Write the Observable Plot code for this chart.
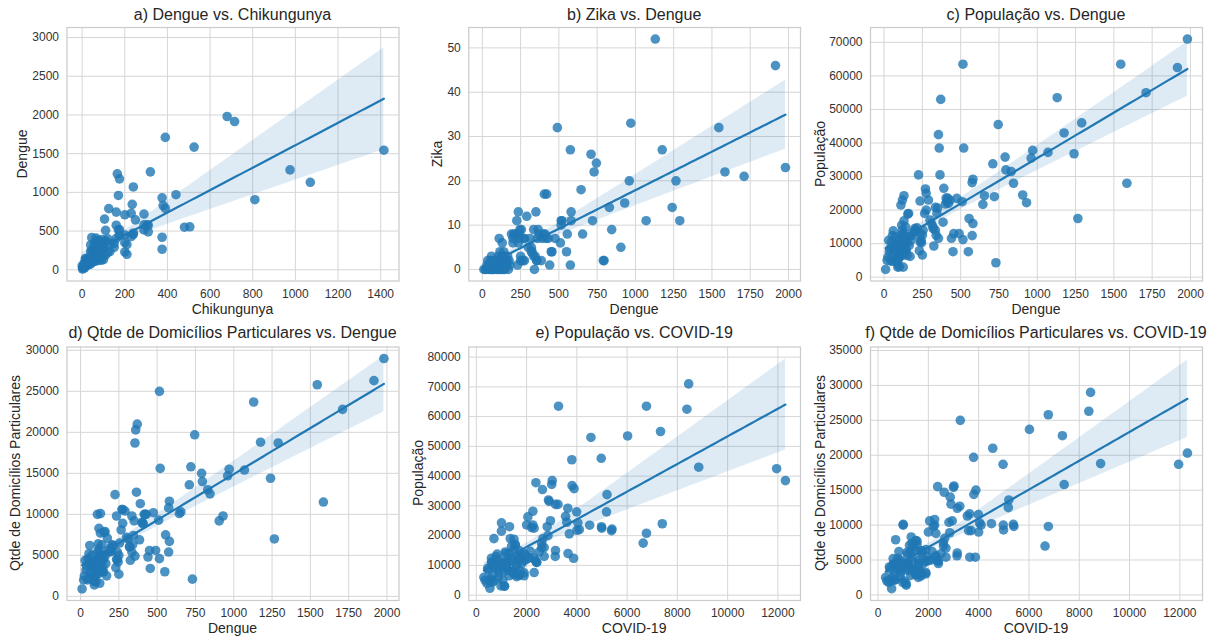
<!DOCTYPE html>
<html>
<head>
<meta charset="utf-8">
<script src="https://cdn.jsdelivr.net/npm/d3@7"></script>
<script src="https://cdn.jsdelivr.net/npm/@observablehq/plot@0.6"></script>
<style>
  html, body { margin: 0; padding: 0; background: #ffffff; }
  #wrap { position: relative; width: 1214px; height: 637px; overflow: hidden; font-family: "Liberation Sans", Arial, sans-serif; color: #262626; }
  #wrap svg { position: absolute; }
  .lbl { position: absolute; white-space: nowrap; transform: translate(-50%, -50%); line-height: 1; }
  .ttl { font-size: 16px; }
  .axl { font-size: 14px; }
  .rot { transform: translate(-50%, -50%) rotate(-90deg); }
</style>
</head>
<body>
<div id="wrap"></div>
<script>
// ---- Data: one entry per municipality (same order in every array) ----
const dengue = [
  1980,1915,1710,1585,1545,1290,1265,1240,1175,1130,1070,970,960,930,905,845,830,795,790,745,
  730,720,710,655,645,580,575,580,575,555,550,515,520,510,515,490,475,455,450,440,
  430,420,405,225,235,270,275,290,275,265,255,250,235,245,250,230,240,240,215,205,
  310,320,325,335,340,335,355,350,365,360,355,370,385,390,400,410,415,345,300,320,200,
  10,30,35,45,55,60,55,70,80,85,
  90,100,110,120,130,115,120,125,130,120,
  100,95,105,110,120,130,140,150,155,160,
  160,170,175,190,200,140,135,145,60,75,
  85,95,100,125,150,20,40,65,110,140,
  180,165,75,90,50,130,145,25
];
const chikungunya = [
  680,715,390,525,1415,975,320,165,175,1070,240,440,170,375,810,235,380,390,125,160,
  230,290,200,105,250,305,160,290,310,505,480,170,175,110,290,310,240,240,200,175,
  230,375,160,120,130,60,100,150,80,375,60,95,70,45,60,200,60,40,50,90,
  100,100,210,60,150,130,90,200,110,70,60,110,75,95,120,65,45,85,55,40,210,
  2,5,8,10,15,12,20,25,18,30,
  35,22,40,45,30,50,38,60,55,25,
  28,35,42,60,75,48,70,85,65,90,
  55,95,80,110,60,52,35,45,10,22,
  15,20,50,90,40,3,6,30,20,65,
  70,35,40,10,0,100,15,12
];
const zika = [
  23,46,21,22,32,11,20,14,27,52,11,33,20,15,5,9,14,2,2,24,
  22,11,26,8,18,13,27,11,1,8,4,10,11,6,11,32,7,4,4,1,
  7,17,17,11,13,7,2,12,7,2,9,3,6,9,2,1,7,8,8,8,
  7,5,4,3,0,9,2,13,9,7,2,8,2,7,8,8,7,3,5,4,6,
  0,1,2,0,1,3,2,0,1,2,
  1,0,7,2,3,4,1,2,6,0,
  1,2,3,0,1,2,4,2,1,2,
  1,0,2,8,7,3,1,0,0,2,
  1,0,1,0,1,0,1,0,2,0,
  1,3,0,1,0,2,1,0
];
const populacao = [
  71000,62500,55000,28000,63500,46000,17500,36800,43000,53500,37200,37800,35500,22200,24500,28000,31500,32000,35800,45500,
  4300,24000,33800,24300,21700,29200,28200,16000,12400,17500,7600,63500,38500,22500,11200,13000,23500,13000,7600,11600,
  23000,22000,23600,30500,22700,26300,25000,23000,20000,19000,14000,12500,10500,10300,6600,7900,11000,13000,14700,14000,
  16000,15000,9300,14000,12500,20800,11600,20600,30500,38500,42500,53000,16400,26500,21800,22500,23600,19000,17000,14500,13500,
  2300,11000,7600,4800,4800,13800,12400,8000,5000,9000,
  3000,3100,21500,23000,24300,15500,14000,13000,16800,11500,
  11000,10000,8500,7000,6500,9000,8000,10000,18800,19000,
  12000,6200,11000,12500,14500,10500,7500,12000,9000,10000,
  7000,5500,6000,3000,6500,5000,8500,6800,12500,15000,
  13000,9500,12000,4000,10500,11000,8000,6000
];
const domicilios = [
  29000,26300,22800,11500,25800,18700,7000,14400,18800,23700,15400,15500,14700,9800,9200,12500,13000,14000,15000,19700,
  2100,15800,13600,10300,10100,11600,10800,6700,5400,7500,3000,25000,15600,9300,4600,5600,10200,3400,5600,4800,
  10000,10000,9000,12400,9800,10600,10600,10400,8900,8100,6500,5000,4500,4200,2700,3500,4500,5400,6200,6300,
  7000,6000,4400,5400,6300,9800,4900,9200,12700,20300,18700,21000,6900,11300,9000,8800,10000,7400,7200,6100,5500,
  900,4400,3200,2000,2200,6200,5200,3600,2000,3700,
  1400,1800,10000,8300,10100,6400,5800,5200,7700,4700,
  4400,4100,3500,3300,2800,3800,3000,4500,7800,7900,
  4900,2500,7100,5400,5900,4400,3200,5000,4000,4300,
  2900,2500,2600,1600,3000,2000,3700,2900,5400,6300,
  5600,4000,5000,1800,4600,4800,3500,2500
];
const covid = [
  8450,8380,7330,3990,6770,4970,6640,3810,8850,6020,3000,2370,2630,5400,3600,5180,2900,2870,3890,3800,
  640,7400,5200,4040,5380,3640,2250,2700,3870,2600,1500,3270,3020,4990,1100,3140,4510,1650,2300,1900,
  4980,4100,2000,3150,2200,2050,2950,2820,2850,2650,1900,2100,1800,1600,1700,1450,2400,2700,2150,1300,
  2600,3150,1200,3650,1750,6770,2350,3700,3250,12300,11950,4560,1400,3550,4000,2300,2250,1350,1550,1150,1950,
  540,600,900,520,700,830,600,1100,1050,760,
  1120,980,1000,1320,1000,1500,1180,780,1550,1400,
  620,700,1250,1700,1300,900,1750,1600,1500,700,
  2000,1600,1250,2300,2500,1050,1900,1650,450,1200,
  1500,560,880,1120,1900,350,480,650,1350,1700,
  1750,1200,880,420,950,2400,1400,300
];

// ---- Tick labels ----
const ticksChik = [0,200,400,600,800,1000,1200,1400];
const ticksDengueY = [0,500,1000,1500,2000,2500,3000];
const ticksDengueX = [0,250,500,750,1000,1250,1500,1750,2000];
const ticksZika = [0,10,20,30,40,50];
const ticksPop70 = [0,10000,20000,30000,40000,50000,60000,70000];
const ticksDom30 = [0,5000,10000,15000,20000,25000,30000];
const ticksCovid = [0,2000,4000,6000,8000,10000,12000];
const ticksPop80 = [0,10000,20000,30000,40000,50000,60000,70000,80000];
const ticksDom35 = [0,5000,10000,15000,20000,25000,30000,35000];

// ---- Layout ----
const cellX = [0, 405, 810, 1214];
const cellY = [0, 318, 637];
const frameX = [[66.5, 398.5], [468.3, 800], [870, 1202]];
const frameY = [[27, 280.5], [346.5, 600]];
const titleY = [15, 333];
const xLabelY = [309, 628];
const yLabelX = { a: 21.7, b: 436.7, c: 820, d: 15, e: 418.3, f: 820 };

const panels = [
  { id: "a", col: 0, row: 0, title: "a) Dengue vs. Chikungunya", xs: chikungunya, ys: dengue, xLabel: "Chikungunya", yLabel: "Dengue",
    xTicks: ticksChik, yTicks: ticksDengueY, xDomain: [-71, 1486], yDomain: [-145, 3130] },
  { id: "b", col: 1, row: 0, title: "b) Zika vs. Dengue", xs: dengue, ys: zika, xLabel: "Dengue", yLabel: "Zika",
    xTicks: ticksDengueX, yTicks: ticksZika, xDomain: [-88.5, 2078.5], yDomain: [-2.6, 54.6] },
  { id: "c", col: 2, row: 0, title: "c) População vs. Dengue", xs: dengue, ys: populacao, xLabel: "Dengue", yLabel: "População",
    xTicks: ticksDengueX, yTicks: ticksPop70, xDomain: [-88.5, 2078.5], yDomain: [-1135, 74435] },
  { id: "d", col: 0, row: 1, title: "d) Qtde de Domicílios Particulares vs. Dengue", xs: dengue, ys: domicilios, xLabel: "Dengue", yLabel: "Qtde de Domicílios Particulares",
    xTicks: ticksDengueX, yTicks: ticksDom30, xDomain: [-88.5, 2078.5], yDomain: [-505, 30405] },
  { id: "e", col: 1, row: 1, title: "e) População vs. COVID-19", xs: covid, ys: populacao, xLabel: "COVID-19", yLabel: "População",
    xTicks: ticksCovid, yTicks: ticksPop80, xDomain: [-300, 12900], yDomain: [-1800, 83400] },
  { id: "f", col: 2, row: 1, title: "f) Qtde de Domicílios Particulares vs. COVID-19", xs: covid, ys: domicilios, xLabel: "COVID-19", yLabel: "Qtde de Domicílios Particulares",
    xTicks: ticksCovid, yTicks: ticksDom35, xDomain: [-300, 12900], yDomain: [-800, 35500] }
];

// OLS fit with a heteroscedasticity-robust (HC3) 95% confidence band
function robustFit(xs, ys, steps = 80) {
  const n = xs.length;
  let sx = 0, sxx = 0, sy = 0, sxy = 0;
  for (let i = 0; i < n; i++) { sx += xs[i]; sxx += xs[i] * xs[i]; sy += ys[i]; sxy += xs[i] * ys[i]; }
  const det = n * sxx - sx * sx;
  const i00 = sxx / det, i01 = -sx / det, i11 = n / det;
  const b1 = (n * sxy - sx * sy) / det;
  const b0 = (sy - b1 * sx) / n;
  let m00 = 0, m01 = 0, m11 = 0;
  for (let i = 0; i < n; i++) {
    const x = xs[i];
    const e = ys[i] - (b0 + b1 * x);
    const h = i00 + 2 * i01 * x + i11 * x * x;
    const w = (e * e) / ((1 - h) * (1 - h));
    m00 += w; m01 += w * x; m11 += w * x * x;
  }
  // cov = inv * meat * inv
  const a00 = i00 * m00 + i01 * m01, a01 = i00 * m01 + i01 * m11;
  const a10 = i01 * m00 + i11 * m01, a11 = i01 * m01 + i11 * m11;
  const c00 = a00 * i00 + a01 * i01, c01 = a00 * i01 + a01 * i11;
  const c11 = a10 * i01 + a11 * i11;
  const [lo, hi] = d3.extent(xs);
  const out = [];
  for (let k = 0; k <= steps; k++) {
    const x = lo + (hi - lo) * k / steps;
    const yhat = b0 + b1 * x;
    const se = Math.sqrt(Math.max(0, c00 + 2 * c01 * x + c11 * x * x));
    out.push({ x, y: yhat, y1: yhat - 1.96 * se, y2: yhat + 1.96 * se });
  }
  return out;
}

const wrap = document.getElementById("wrap");
const BLUE = "#1f77b4";
const FONT = "'Liberation Sans', Arial, sans-serif";

function addLabel(text, x, y, cls) {
  const d = document.createElement("div");
  d.className = "lbl " + cls;
  d.textContent = text;
  d.style.left = x + "px";
  d.style.top = y + "px";
  wrap.appendChild(d);
}

for (const p of panels) {
  const cx0 = cellX[p.col], cx1 = cellX[p.col + 1];
  const cy0 = cellY[p.row], cy1 = cellY[p.row + 1];
  const [fx0, fx1] = frameX[p.col];
  const [fy0, fy1] = frameY[p.row];
  const data = p.xs.map((v, i) => ({ x: v, y: p.ys[i] }));
  const fit = robustFit(p.xs, p.ys);
  const svg = Plot.plot({
    width: cx1 - cx0,
    height: cy1 - cy0,
    marginLeft: fx0 - cx0,
    marginRight: cx1 - fx1,
    marginTop: fy0 - cy0,
    marginBottom: cy1 - fy1,
    style: { fontFamily: FONT, fontSize: "12px", color: "#262626", background: "transparent", overflow: "visible" },
    x: { domain: p.xDomain },
    y: { domain: p.yDomain },
    marks: [
      Plot.gridX(p.xTicks, { stroke: "#d6d6d6", strokeOpacity: 1, strokeWidth: 1 }),
      Plot.gridY(p.yTicks, { stroke: "#d6d6d6", strokeOpacity: 1, strokeWidth: 1 }),
      Plot.frame({ stroke: "#cccccc", strokeWidth: 1.25 }),
      Plot.axisX(p.xTicks, { tickSize: 0, tickPadding: 8, tickFormat: d => String(d), label: null, fill: "#333", fontSize: 12 }),
      Plot.axisY(p.yTicks, { tickSize: 0, tickPadding: 8, tickFormat: d => String(d), label: null, fill: "#333", fontSize: 12 }),
      Plot.dot(data, { x: "x", y: "y", r: 4.8, fill: BLUE, fillOpacity: 0.8 }),
      Plot.areaY(fit, { x: "x", y1: "y1", y2: "y2", fill: BLUE, fillOpacity: 0.15 }),
      Plot.line(fit, { x: "x", y: "y", stroke: BLUE, strokeWidth: 2.2 })
    ]
  });
  svg.style.left = cx0 + "px";
  svg.style.top = cy0 + "px";
  wrap.appendChild(svg);

  const midX = (fx0 + fx1) / 2;
  const midY = (fy0 + fy1) / 2;
  addLabel(p.title, midX, titleY[p.row], "ttl");
  addLabel(p.xLabel, midX, xLabelY[p.row], "axl");
  addLabel(p.yLabel, yLabelX[p.id], midY, "axl rot");
}
</script>
</body>
</html>
